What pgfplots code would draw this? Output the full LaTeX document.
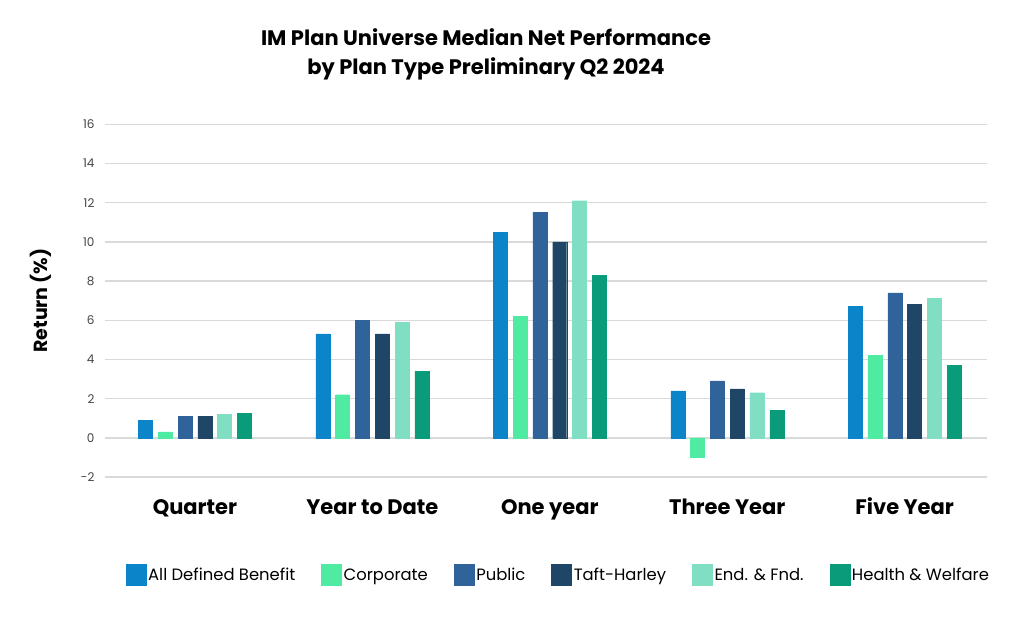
\documentclass[border=0pt]{standalone}
\usepackage{fontspec}
\setmainfont{Poppins}
\usepackage{pgfplots}
\pgfplotsset{compat=1.18}

\definecolor{cadb}{HTML}{0B84C9}
\definecolor{ccorp}{HTML}{4FEBA3}
\definecolor{cpub}{HTML}{2F6399}
\definecolor{ctaft}{HTML}{1F4666}
\definecolor{cend}{HTML}{80DEC2}
\definecolor{chw}{HTML}{0A9B7A}
\definecolor{gridc}{HTML}{D9D9D9}
\definecolor{tickc}{HTML}{444444}

\begin{document}
\begin{tikzpicture}
\useasboundingbox (-105pt,-140pt) rectangle (919pt,477pt);
\begin{axis}[
    at={(0pt,0pt)}, anchor=south west,
    scale only axis,
    width=882pt, height=352.7pt,
    xmin=-0.507, xmax=4.464,
    ymin=-2, ymax=16,
    ytick={-2,0,...,16},
    xtick={0,1,2,3,4},
    xticklabels={Quarter,Year to Date,One year,Three Year,Five Year},
    axis line style={draw=none},
    major tick length=0pt,
    ymajorgrids,
    grid style={gridc, line width=1.4pt},
    /pgf/number format/assume math mode=true,
    yticklabel style={font=\fontsize{12}{14}\selectfont, text=tickc, xshift=-7pt},
    xticklabel style={font=\fontsize{21}{24}\selectfont\bfseries, anchor=base, yshift=-38pt},
    ylabel={Return (\%)},
    ylabel style={font=\fontsize{19}{22}\selectfont\bfseries, at={(axis description cs:-0.073,0.5)}, anchor=center},
    ybar, bar width=14pt,
    legend columns=6,
    legend style={draw=none, fill=none, at={(axis description cs:0.514,-0.278)}, anchor=center,
        font=\fontsize{16.4}{18}\selectfont, /tikz/every even column/.append style={column sep=24pt}},
    legend cell align=left,
    legend image code/.code={\fill[#1] (0pt,-10.5pt) rectangle (20pt,10.5pt);},
]
\addplot[fill=cadb, draw=cadb, bar shift=-49.5pt] coordinates {(0,0.9)(1,5.3)(2,10.5)(3,2.4)(4,6.7)};
\addlegendentry{All Defined Benefit}
\addplot[fill=ccorp, draw=ccorp, bar shift=-29.7pt] coordinates {(0,0.3)(1,2.2)(2,6.2)(3,-1.0)(4,4.2)};
\addlegendentry{Corporate}
\addplot[fill=cpub, draw=cpub, bar shift=-9.9pt] coordinates {(0,1.1)(1,6.0)(2,11.5)(3,2.9)(4,7.4)};
\addlegendentry{Public}
\addplot[fill=ctaft, draw=ctaft, bar shift=9.9pt] coordinates {(0,1.1)(1,5.3)(2,10.0)(3,2.5)(4,6.8)};
\addlegendentry{Taft-Harley}
\addplot[fill=cend, draw=cend, bar shift=29.7pt] coordinates {(0,1.2)(1,5.9)(2,12.1)(3,2.3)(4,7.1)};
\addlegendentry{End. \& Fnd.}
\addplot[fill=chw, draw=chw, bar shift=49.5pt] coordinates {(0,1.25)(1,3.4)(2,8.3)(3,1.4)(4,3.7)};
\addlegendentry{Health \& Welfare}
\end{axis}
\node[align=center, font=\fontsize{21}{29}\selectfont\bfseries] at (381pt,423pt)
  {IM Plan Universe Median Net Performance\\by Plan Type Preliminary Q2 2024};
\end{tikzpicture}
\end{document}
